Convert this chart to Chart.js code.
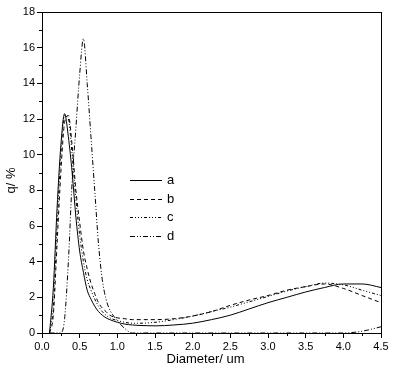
<!DOCTYPE html>
<html lang="en">
  <head>
    <meta charset="UTF-8" />
    <title>Particle size distribution</title>
    <script src="https://cdn.jsdelivr.net/npm/chart.js"></script>
    <style>
      html, body { margin: 0; padding: 0; background: #fff; }
    </style>
  </head>
  <body>
    <canvas id="psd" width="394" height="368"></canvas>
    <script>
      // data
      const diameters = [0.1, 0.15, 0.2, 0.25, 0.3, 0.35, 0.4, 0.45, 0.5, 0.55, 0.6, 0.65, 0.7, 0.75, 0.8, 0.85, 0.9, 1.0, 1.1, 1.2, 1.3, 1.5, 1.75, 2.0, 2.25, 2.5, 2.75, 3.0, 3.25, 3.5, 3.75, 4.0, 4.25, 4.5];
      const seriesA = [0, 2.5, 7, 10.5, 12.3, 11, 9, 6.5, 4.6, 3.4, 2.4, 1.9, 1.5, 1.2, 1.0, 0.85, 0.75, 0.6, 0.5, 0.45, 0.42, 0.4, 0.45, 0.55, 0.75, 1.0, 1.35, 1.7, 2.0, 2.3, 2.55, 2.75, 2.75, 2.55];
      const seriesB = [0, 1, 5, 9, 11.8, 12.2, 10.5, 8, 6.2, 4.6, 3.6, 2.8, 2.2, 1.7, 1.4, 1.2, 1.0, 0.85, 0.8, 0.75, 0.75, 0.75, 0.8, 0.95, 1.2, 1.55, 1.85, 2.1, 2.4, 2.6, 2.75, 2.5, 2.1, 1.7];
      const seriesC = [0, 1.5, 6, 10, 12.2, 12, 10, 7.5, 5.5, 4.0, 3.0, 2.4, 1.9, 1.5, 1.2, 1.0, 0.85, 0.7, 0.6, 0.55, 0.55, 0.6, 0.75, 0.95, 1.2, 1.45, 1.75, 2.05, 2.35, 2.6, 2.8, 2.7, 2.4, 2.1];
      const seriesD = [0, 0, 0, 0, 0.8, 4, 8.5, 11.5, 14.5, 16.5, 14, 11, 8, 5, 3, 1.9, 1.3, 0.7, 0.25, 0, 0, 0, 0, 0, 0, 0, 0, 0, 0, 0, 0, 0, 0.1, 0.35];
      const seriesNames = ["a", "b", "c", "d"];
      const dashes = [[], [4, 3], [3, 2, 1, 2, 1, 2, 1, 2], [5, 2, 1, 2, 1, 2]];
      const xTitle = "Diameter/ um";
      const yTitle = "q/ %";

      const FONT = "'Liberation Sans', Arial, sans-serif";

      function pts(vals) {
        return diameters.map((d, i) => ({ x: d, y: vals[i] }));
      }

      const datasets = [seriesA, seriesB, seriesC, seriesD].map((vals, i) => ({
        label: seriesNames[i],
        data: pts(vals),
        borderColor: "#000",
        borderWidth: 1,
        borderDash: dashes[i],
        pointRadius: 0,
        fill: false,
        cubicInterpolationMode: "monotone",
      }));

      // minor ticks, box border, axis titles and the in-plot legend
      const extras = {
        id: "extras",
        afterDraw(chart) {
          const c = chart.ctx;
          const a = chart.chartArea;
          const xs = chart.scales.x;
          const ys = chart.scales.y;
          c.save();
          c.strokeStyle = "#000";
          c.lineWidth = 1;
          c.beginPath();
          for (let v = 0.25; v < 4.5; v += 0.5) {
            const px = Math.round(xs.getPixelForValue(v)) + 0.5;
            c.moveTo(px, a.bottom);
            c.lineTo(px, a.bottom + 3);
          }
          for (let v = 1; v < 18; v += 2) {
            const py = Math.round(ys.getPixelForValue(v)) + 0.5;
            c.moveTo(a.left, py);
            c.lineTo(a.left - 3, py);
          }
          c.stroke();
          c.strokeRect(Math.round(a.left) + 0.5, Math.round(a.top) + 0.5, Math.round(a.right - a.left), Math.round(a.bottom - a.top));

          // axis titles
          c.font = "13px " + FONT;
          c.fillStyle = "#000";
          c.textAlign = "center";
          c.textBaseline = "middle";
          c.fillText(xTitle, (a.left + a.right) / 2 - 6, a.bottom + 26);
          c.save();
          c.translate(11, (a.top + a.bottom) / 2 + 8);
          c.rotate(-Math.PI / 2);
          c.fillText(yTitle, 0, 0);
          c.restore();

          // legend
          const lx = a.left + 88;
          const ly = a.top + 168;
          c.textAlign = "left";
          chart.data.datasets.forEach((ds, i) => {
            const y = Math.round(ly + i * 18.7) + 0.5;
            c.setLineDash(ds.borderDash);
            c.beginPath();
            c.moveTo(lx, y);
            c.lineTo(lx + 32, y);
            c.stroke();
            c.setLineDash([]);
            c.fillText(ds.label, lx + 37, y);
          });
          c.restore();
        },
      };

      new Chart(document.getElementById("psd"), {
        type: "line",
        data: { datasets },
        plugins: [extras],
        options: {
          responsive: false,
          animation: false,
          layout: { padding: { top: 12, right: 13, left: 0, bottom: 0 } },
          plugins: { legend: { display: false }, tooltip: { enabled: false } },
          scales: {
            x: {
              type: "linear",
              min: 0,
              max: 4.5,
              afterFit(s) { s.height = 35; },
              border: { display: true, color: "#000", width: 1 },
              grid: { display: true, drawOnChartArea: false, drawTicks: true, tickLength: 5, color: "#000" },
              ticks: {
                stepSize: 0.5,
                color: "#000",
                padding: 2,
                maxRotation: 0,
                font: { family: FONT, size: 11 },
                callback: (v) => v.toFixed(1),
              },
            },
            y: {
              min: 0,
              max: 18,
              afterFit(s) { s.width = 42; },
              border: { display: true, color: "#000", width: 1 },
              grid: { display: true, drawOnChartArea: false, drawTicks: true, tickLength: 5, color: "#000" },
              ticks: {
                stepSize: 2,
                color: "#000",
                padding: 2,
                font: { family: FONT, size: 11 },
              },
            },
          },
        },
      });
    </script>
  </body>
</html>
